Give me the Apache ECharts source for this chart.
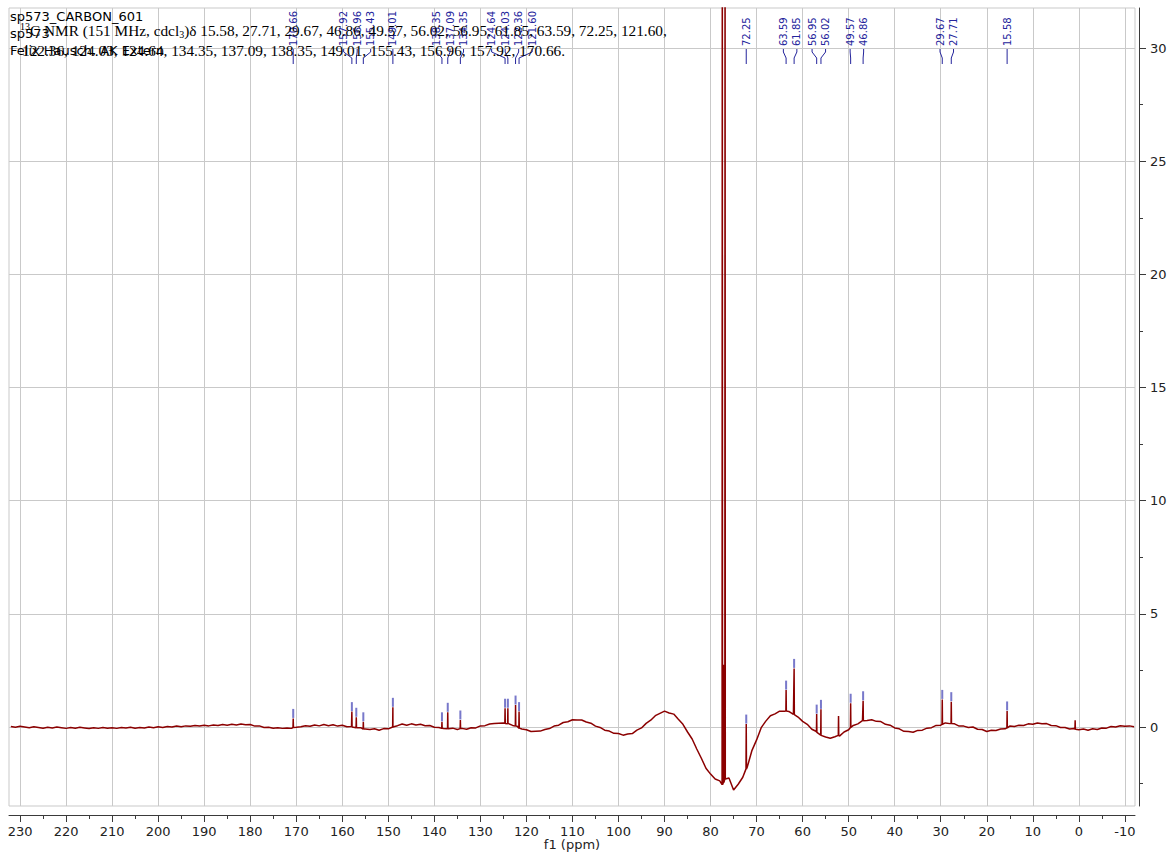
<!DOCTYPE html>
<html>
<head>
<meta charset="utf-8">
<title>sp573_CARBON_601</title>
<script src="https://cdn.jsdelivr.net/npm/echarts@6/dist/echarts.min.js"></script>
<style>
  html, body { margin: 0; padding: 0; background: #ffffff; }
  #chart { width: 1170px; height: 852px; }
</style>
</head>
<body>
<div id="chart"></div>
<script>
// ---- 13C spectrum of sp573 (151 MHz, CDCl3) ----

// visible ppm window (axis runs right to left)
const ppmLow = -12.2;
const ppmHigh = 232.4;
const intensityLow = -3.49;
const intensityHigh = 31.77;

// axis ticks
const xMajorTicks = [-10, 0, 10, 20, 30, 40, 50, 60, 70, 80, 90, 100, 110, 120, 130, 140, 150, 160, 170, 180, 190, 200, 210, 220, 230];
const xMinorTicks = [-5, 5, 15, 25, 35, 45, 55, 65, 75, 85, 95, 105, 115, 125, 135, 145, 155, 165, 175, 185, 195, 205, 215, 225];
const yMajorTicks = [0, 5, 10, 15, 20, 25, 30];
const yMinorTicks = [-2.5, 2.5, 7.5, 12.5, 17.5, 22.5, 27.5];

// baseline, one reading per ppm from 232 ppm down to -12 ppm
const baselineStartPpm = 232;
const baselineStepPpm = 1;
const baseline = [
  0.02, -0.01, 0.03, 0.00, -0.03, 0.01, -0.02, -0.05, -0.01, -0.04,    // 232..223
  0.00, -0.03, -0.06, -0.02, -0.05, -0.01, -0.04, -0.07, -0.03, -0.06, // 222..213
  -0.02, -0.05, -0.03, -0.06, -0.02, -0.04, -0.01, -0.05, -0.02, -0.04, // 212..203
  0.00, -0.03, 0.01, -0.02, 0.02, 0.00, 0.04, 0.01, 0.05, 0.03,        // 202..193
  0.07, 0.04, 0.08, 0.05, 0.09, 0.07, 0.11, 0.08, 0.12, 0.09,          // 192..183
  0.13, 0.10, 0.11, 0.04, 0.05, -0.02, -0.01, -0.05, -0.03, -0.06,     // 182..173
  -0.04, -0.06, -0.01, 0.01, 0.06, 0.03, 0.09, 0.05, 0.11, 0.06,       // 172..163
  0.10, 0.04, 0.08, 0.01, 0.02, -0.04, -0.03, -0.09, -0.11, -0.08,     // 162..153
  -0.14, -0.07, -0.08, 0.00, 0.06, 0.13, 0.08, 0.14, 0.09, 0.12,       // 152..143
  0.06, 0.07, -0.01, -0.02, -0.07, -0.08, -0.05, -0.11, -0.06, -0.10,  // 142..133
  -0.03, -0.04, 0.05, 0.06, 0.13, 0.15, 0.17, 0.18, 0.16, 0.07,        // 132..123
  0.03, -0.09, -0.12, -0.20, -0.19, -0.18, -0.11, -0.07, 0.04, 0.08,   // 122..113
  0.20, 0.23, 0.32, 0.31, 0.31, 0.22, 0.17, 0.04, -0.02, -0.14,        // 112..103
  -0.18, -0.28, -0.29, -0.36, -0.31, -0.29, -0.14, -0.04, 0.16, 0.30,  // 102..93
  0.50, 0.60, 0.70, 0.62, 0.57, 0.34, 0.12, -0.22, -0.53, -0.97,       // 92..83
  -1.38, -1.82, -2.08, -2.30, -2.38, -2.45, -2.25, -2.78, -2.53, -2.22, // 82..73
  -1.75, -1.03, -0.57, -0.03, 0.26, 0.50, 0.58, 0.70, 0.70, 0.69,      // 72..63
  0.56, 0.44, 0.25, 0.12, -0.10, -0.20, -0.37, -0.44, -0.50, -0.43,    // 62..53
  -0.40, -0.22, -0.12, 0.07, 0.14, 0.28, 0.29, 0.32, 0.25, 0.24,       // 52..43
  0.12, 0.08, -0.04, -0.08, -0.19, -0.20, -0.23, -0.15, -0.14, -0.05,  // 42..33
  -0.03, 0.07, 0.08, 0.18, 0.15, 0.14, 0.04, 0.04, -0.02, 0.00,        // 32..23
  -0.10, -0.11, -0.20, -0.14, -0.15, -0.09, -0.08, 0.04, 0.02, 0.08,   // 22..13
  0.07, 0.14, 0.12, 0.18, 0.14, 0.15, 0.07, 0.06, -0.02, -0.02,        // 12..3
  -0.09, -0.07, -0.12, -0.09, -0.14, -0.08, -0.11, -0.04, -0.05, 0.02, // 2..-7
  0.00, 0.06, 0.03, 0.05, 0.01                                          // -8..-12
];

// resonances: shift (ppm), line top, local baseline under the line
const peakShift = [170.66, 157.92, 156.96, 155.43, 149.01, 138.35, 137.09, 134.35, 124.64, 124.03, 122.36, 121.60,
                   77.45, 77.16, 76.85, 72.25, 63.59, 61.85, 56.95, 56.02, 52.20, 49.57, 46.86, 29.67, 27.71, 15.58, 0.80];
const peakTop   = [0.38, 0.68, 0.43, 0.23, 0.87, 0.23, 0.65, 0.31, 0.83, 0.83, 0.97, 0.68,
                   40.0, 2.75, 40.0, 0.13, 1.63, 2.59, 0.57, 0.78, 0.49, 1.05, 1.16, 1.22, 1.12, 0.71, 0.30];
const peakFoot  = [-0.02, 0.00, -0.03, -0.09, 0.00, -0.06, -0.08, -0.07, 0.16, 0.14, 0.04, -0.05,
                   -2.55, -2.45, -2.30, -1.85, 0.71, 0.55, -0.24, -0.36, -0.37, -0.02, 0.28, 0.12, 0.16, -0.04, -0.10];

// picked peaks (listed in the header line and labelled above the spectrum)
const pickedShifts = ['15.58', '27.71', '29.67', '46.86', '49.57', '56.02', '56.95', '61.85', '63.59', '72.25', '121.60',
                      '122.36', '124.03', '124.64', '134.35', '137.09', '138.35', '149.01', '155.43', '156.96', '157.92', '170.66'];

// ---- build the trace ----
const trace = [];
baseline.forEach(function (v, i) { trace.push([baselineStartPpm - i * baselineStepPpm, v]); });
const halfWidth = 0.05;
peakShift.forEach(function (p, i) {
  trace.push([p + halfWidth, peakFoot[i]]);
  trace.push([p, peakTop[i]]);
  trace.push([p - halfWidth, peakFoot[i]]);
});
trace.sort(function (a, b) { return b[0] - a[0]; });

const pickMarks = pickedShifts.map(function (s) {
  const v = parseFloat(s);
  const k = peakShift.indexOf(v);
  return [v, peakTop[k]];
});

const gridColor = '#c9c9c9';
const axisColor = '#3a3a3a';
const labelBlue = '#24249c';
const sans = '"DejaVu Sans", Verdana, sans-serif';
const serif = '"Liberation Serif", "Times New Roman", serif';

const chart = echarts.init(document.getElementById('chart'), null, { renderer: 'svg' });

chart.setOption({
  animation: false,
  backgroundColor: '#ffffff',
  grid: {
    left: 9, right: 35, top: 8, bottom: 46, show: true,
    borderColor: gridColor, borderWidth: 1,
    containLabel: false, outerBoundsMode: 'none'
  },
  xAxis: [
    {
      type: 'value', inverse: true, min: ppmLow, max: ppmHigh, position: 'bottom', offset: 9,
      axisLine: { show: true, onZero: false, lineStyle: { color: axisColor, width: 1 } },
      axisTick: { show: true, length: 7, customValues: xMajorTicks, lineStyle: { color: axisColor } },
      axisLabel: { customValues: xMajorTicks, color: '#222', fontSize: 13, fontFamily: sans, margin: 10 },
      splitLine: { show: true, lineStyle: { color: gridColor, width: 1 } },
      name: 'f1 (ppm)', nameLocation: 'middle', nameGap: 23, nameMoveOverlap: false,
      nameTextStyle: { color: '#222', fontSize: 13, fontFamily: sans }
    },
    {
      type: 'value', inverse: true, min: ppmLow, max: ppmHigh, position: 'bottom', offset: 9,
      axisLine: { show: false, onZero: false },
      axisTick: { show: true, length: 4, customValues: xMinorTicks, lineStyle: { color: axisColor } },
      axisLabel: { show: false, customValues: xMinorTicks },
      splitLine: { show: false }
    }
  ],
  yAxis: [
    {
      type: 'value', min: intensityLow, max: intensityHigh, position: 'right', offset: 4,
      axisLine: { show: true, onZero: false, lineStyle: { color: axisColor, width: 1 } },
      axisTick: { show: true, length: 7, customValues: yMajorTicks, lineStyle: { color: axisColor } },
      axisLabel: { customValues: yMajorTicks, color: '#222', fontSize: 13, fontFamily: sans, margin: 11 },
      splitLine: { show: true, lineStyle: { color: gridColor, width: 1 } }
    },
    {
      type: 'value', min: intensityLow, max: intensityHigh, position: 'right', offset: 4,
      axisLine: { show: false, onZero: false },
      axisTick: { show: true, length: 4, customValues: yMinorTicks, lineStyle: { color: axisColor } },
      axisLabel: { show: false, customValues: yMinorTicks },
      splitLine: { show: false }
    }
  ],
  series: [
    {
      name: 'spectrum', type: 'line', xAxisIndex: 0, yAxisIndex: 0,
      data: trace, showSymbol: false, clip: true, z: 3,
      lineStyle: { color: '#8b0000', width: 1.5 }
    },
    {
      name: 'picks', type: 'scatter', xAxisIndex: 0, yAxisIndex: 0,
      data: pickMarks, symbol: 'rect', symbolSize: [2, 9], symbolOffset: [0, -5], z: 4,
      itemStyle: { color: '#5656bd' }, silent: true
    }
  ]
});

// ---- peak labels along the top, spread so neighbours do not collide ----
const labelGap = 13.5;
const items = pickedShifts.map(function (s) {
  return { text: s, x: chart.convertToPixel({ xAxisIndex: 0 }, parseFloat(s)) };
}).sort(function (a, b) { return a.x - b.x; });

function placeCluster(c) {
  const mean = c.members.reduce(function (s, m) { return s + m.x; }, 0) / c.members.length;
  c.start = mean - (c.members.length - 1) * labelGap / 2;
}
const clusters = [];
items.forEach(function (it) {
  const c = { members: [it] };
  placeCluster(c);
  clusters.push(c);
  while (clusters.length > 1) {
    const b = clusters[clusters.length - 1];
    const a = clusters[clusters.length - 2];
    if (a.start + a.members.length * labelGap > b.start) {
      a.members = a.members.concat(b.members);
      clusters.pop();
      placeCluster(a);
    } else break;
  }
});

const graphics = [];
clusters.forEach(function (c) {
  c.members.forEach(function (m, i) {
    const lx = c.start + i * labelGap;
    graphics.push({
      type: 'text', x: lx, y: 46, rotation: Math.PI / 2, z: 10,
      style: {
        text: m.text, fill: labelBlue, fontSize: 10, fontFamily: sans,
        textAlign: 'left', textVerticalAlign: 'middle', align: 'left', verticalAlign: 'middle'
      }
    });
    graphics.push({
      type: 'polyline', z: 10, silent: true,
      shape: { points: [[lx, 49], [lx, 52], [m.x, 58], [m.x, 64]] },
      style: { stroke: labelBlue, lineWidth: 1, fill: null }
    });
  });
});

// ---- header text ----
const headerLine1 = pickedShifts.slice(0, 11).join(', ') + ',';
const headerLine2 = pickedShifts.slice(11).join(', ') + '.';
graphics.push(
  { type: 'text', x: 10, y: 10, z: 11, style: { text: 'sp573_CARBON_601', fill: '#000', fontSize: 13, fontFamily: sans, textVerticalAlign: 'top', verticalAlign: 'top' } },
  { type: 'text', x: 10, y: 27, z: 11, style: { text: 'sp573', fill: '#000', fontSize: 13, fontFamily: sans, textVerticalAlign: 'top', verticalAlign: 'top' } },
  { type: 'text', x: 10, y: 44, z: 11, style: { text: 'Felix Hausch, AK Extern', fill: '#000', fontSize: 13, fontFamily: sans, textVerticalAlign: 'top', verticalAlign: 'top' } },
  {
    type: 'text', x: 20, y: 30, z: 11,
    style: {
      text: '{sup|13}C NMR (151 MHz, cdcl{sub|3})δ ' + headerLine1,
      fill: '#000', fontSize: 15.3, fontFamily: serif, textVerticalAlign: 'middle', verticalAlign: 'middle',
      rich: {
        sup: { fontSize: 10, fontFamily: serif, fill: '#000', verticalAlign: 'top', lineHeight: 18 },
        sub: { fontSize: 10, fontFamily: serif, fill: '#000', verticalAlign: 'bottom', lineHeight: 18 }
      }
    }
  },
  { type: 'text', x: 22, y: 50, z: 11, style: { text: headerLine2, fill: '#000', fontSize: 15.3, fontFamily: serif, textVerticalAlign: 'middle', verticalAlign: 'middle' } }
);

chart.setOption({ graphic: graphics });
</script>
</body>
</html>
